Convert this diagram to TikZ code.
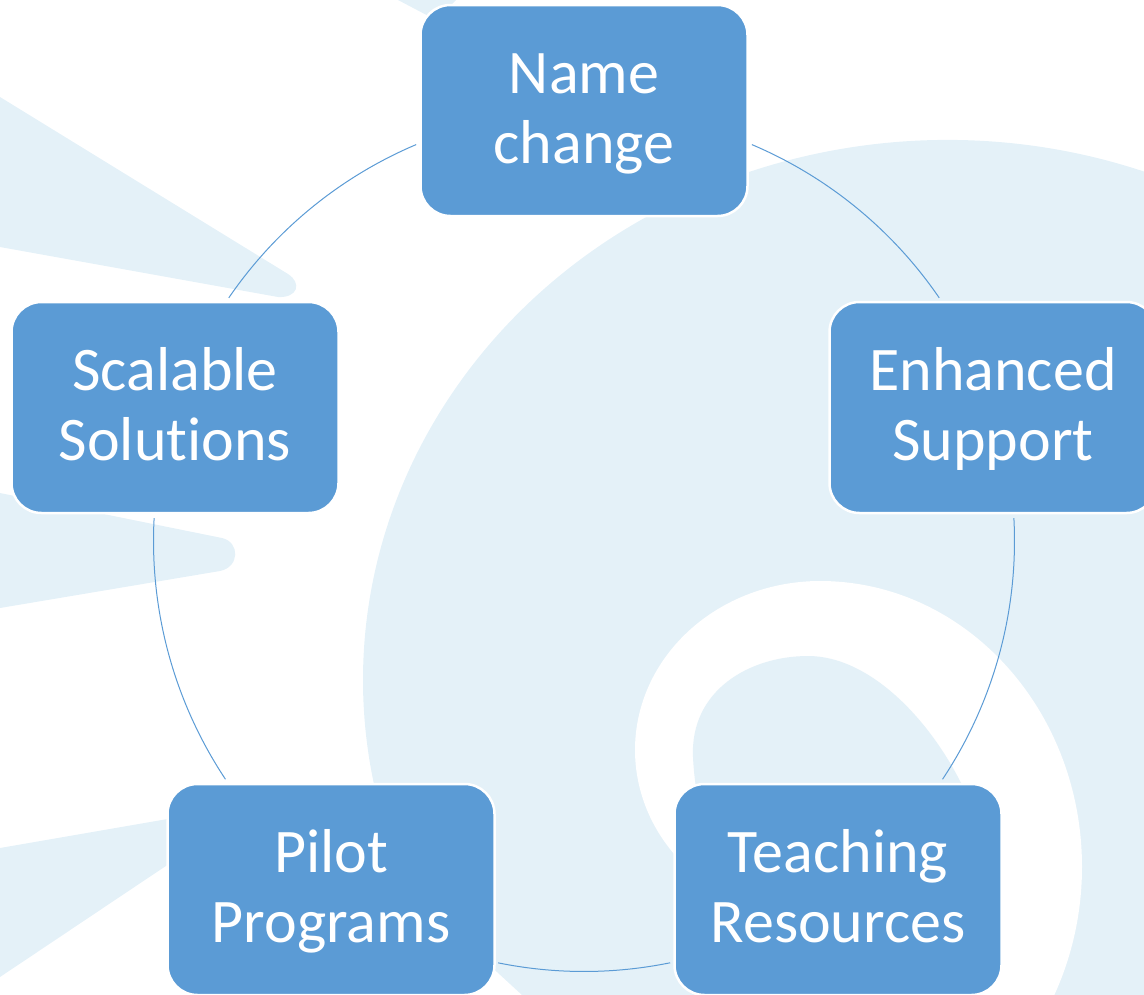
\documentclass[tikz,border=0pt]{standalone}
\usepackage{fontspec}
\setmainfont{Carlito}[Ligatures=NoCommon]
\usetikzlibrary{calc}
\definecolor{boxblue}{HTML}{5B9BD5}
\definecolor{bgblue}{HTML}{E4F1F8}
\definecolor{arcblue}{HTML}{5B9BD5}
\begin{document}
\begin{tikzpicture}[x=1pt,y=-1pt,
  stage/.style={rectangle, rounded corners=30pt, minimum width=327pt, minimum height=211pt,
                inner sep=0pt, fill=boxblue, draw=white, line width=2.5pt},
  lbl/.style={anchor=base, text=white, inner sep=0pt, font=\fontsize{62}{70}\selectfont},
  link/.style={draw=arcblue, line width=1pt},
  bg/.style={fill=bgblue}]
\useasboundingbox (0,0) rectangle (1144,994);
\clip (0,0) rectangle (1144,994);
% background rays
\fill[bg] (0,97) -- (288,274) .. controls (302,283) and (298,298) .. (278,297) -- (0,247) -- cycle;
\fill[bg] (0,493) -- (222,538) .. controls (240,542) and (240,567) .. (220,571) -- (0,608) -- cycle;
\fill[bg] (0,848) -- (260,803) -- (0,977) -- cycle;
\fill[bg] (398,0) -- (436,20) -- (456,0) -- cycle;
% background swirl: outer arm
\fill[bg] (947,680) ++(-60:584 and 540) arc[start angle=-60, end angle=-191, x radius=584, y radius=540]
  .. controls (395,880) and (460,940) .. (497,972) -- (560,1030) -- (1250,1030) -- (1250,150) -- cycle;
% white band
\fill[white] (820,750) ++(130:185 and 169) arc[start angle=130, end angle=270, x radius=185, y radius=169]
  arc[start angle=-90, end angle=35, x radius=262, y radius=286] -- (760,1040) -- cycle;
% inner core
\fill[bg] (693,757) .. controls (690,690) and (750,656) .. (808,656)
  .. controls (870,656) and (930,720) .. (962,785)
  .. controls (990,850) and (900,950) .. (800,930)
  .. controls (720,910) and (696,820) .. (693,757) -- cycle;
% cycle arcs
\coordinate (O) at (584,541);
\draw[link] (O) ++(-67.05:430.5) arc[start angle=-67.05, end angle=-34.4, radius=430.5];
\draw[link] (O) ++(-3.06:430.5) arc[start angle=-3.06, end angle=33.6, radius=430.5];
\draw[link] (O) ++(78.45:430.5) arc[start angle=78.45, end angle=101.5, radius=430.5];
\draw[link] (O) ++(146.4:430.5) arc[start angle=146.4, end angle=183.06, radius=430.5];
\draw[link] (O) ++(-145.6:430.5) arc[start angle=-145.6, end angle=-112.95, radius=430.5];
% stages
\node[stage] (nc) at (584,110.5) {};
\node[stage] (es) at (993,407.5) {};
\node[stage] (tr) at (838,889.5) {};
\node[stage] (pp) at (331,889.5) {};
\node[stage] (ss) at (175,407.5) {};
\node[lbl] (nc1) at ($(nc)+(0,-17.5)$) {Name};
\node[lbl] (nc2) at ($(nc)+(0,52.5)$) {change};
\node[lbl] (es1) at ($(es)+(0,-17.5)$) {Enhanced};
\node[lbl] (es2) at ($(es)+(0,52.5)$) {Support};
\node[lbl] (tr1) at ($(tr)+(0,-17.5)$) {Teaching};
\node[lbl] (tr2) at ($(tr)+(0,52.5)$) {Resources};
\node[lbl] (pp1) at ($(pp)+(0,-17.5)$) {Pilot};
\node[lbl] (pp2) at ($(pp)+(0,52.5)$) {Programs};
\node[lbl] (ss1) at ($(ss)+(0,-17.5)$) {Scalable};
\node[lbl] (ss2) at ($(ss)+(0,52.5)$) {Solut\kern0pt ions};
\end{tikzpicture}
\end{document}
